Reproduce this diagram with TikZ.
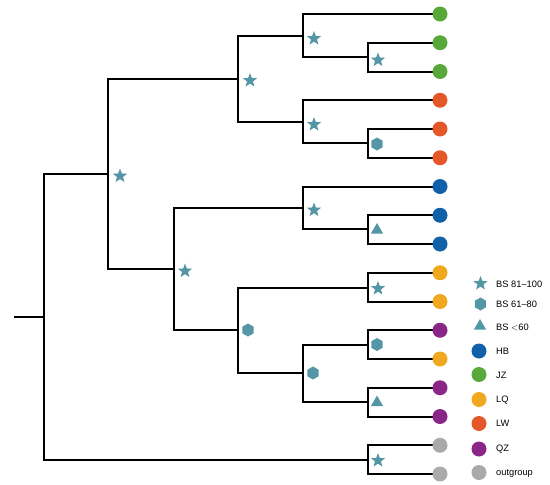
\documentclass[tikz,border=0pt]{standalone}
\usepackage{fontspec}
\setmainfont{Liberation Sans}
\usetikzlibrary{shapes.geometric}
\definecolor{mk}{RGB}{84,150,166}
\definecolor{cJZ}{RGB}{88,168,58}
\definecolor{cLW}{RGB}{228,87,40}
\definecolor{cHB}{RGB}{16,96,170}
\definecolor{cLQ}{RGB}{240,168,30}
\definecolor{cQZ}{RGB}{138,38,135}
\definecolor{cOG}{RGB}{170,170,170}
\tikzset{
  br/.style={line width=2pt, black},
  tip/.style={circle, fill=#1, minimum size=15pt, inner sep=0pt},
  bsstar/.style={star, star points=5, star point ratio=2.4, fill=mk, minimum size=15pt, inner sep=0pt},
  bshex/.style={regular polygon, regular polygon sides=6, shape border rotate=30, fill=mk, minimum size=13pt, inner sep=0pt},
  bstri/.style={regular polygon, regular polygon sides=3, fill=mk, minimum size=14pt, inner sep=0pt},
  lab/.style={anchor=west, font=\fontsize{9.3}{11}\selectfont, inner sep=0pt}
}
\begin{document}
\begin{tikzpicture}[x=1pt,y=-1pt]
\useasboundingbox (0,0) rectangle (550,485);
% internal nodes
\coordinate (s) at (14,316.75);
\coordinate (root) at (44,316.75);
\coordinate (a) at (108,174);
\coordinate (b) at (238,78.5);
\coordinate (c) at (303,35.5);
\coordinate (d) at (368,57);
\coordinate (e) at (303,121.5);
\coordinate (f) at (368,143);
\coordinate (g) at (174,269);
\coordinate (h) at (303,208);
\coordinate (i) at (368,229);
\coordinate (j) at (238,330);
\coordinate (k) at (368,287.5);
\coordinate (l) at (303,373);
\coordinate (m) at (368,344.5);
\coordinate (n) at (368,401.5);
\coordinate (o) at (368,459.5);
% tip coordinates
\foreach \k in {1,...,17}{
  \coordinate (p\k) at (440,{14+(\k-1)*28.75});
}
% branches
\draw[br] (s) -- (root);
\draw[br] (root) |- (a);
\draw[br] (root) |- (o);
\draw[br] (a) |- (b);
\draw[br] (a) |- (g);
\draw[br] (b) |- (c);
\draw[br] (b) |- (e);
\draw[br] (c) |- (p1);
\draw[br] (c) |- (d);
\draw[br] (d) |- (p2);
\draw[br] (d) |- (p3);
\draw[br] (e) |- (p4);
\draw[br] (e) |- (f);
\draw[br] (f) |- (p5);
\draw[br] (f) |- (p6);
\draw[br] (g) |- (h);
\draw[br] (g) |- (j);
\draw[br] (h) |- (p7);
\draw[br] (h) |- (i);
\draw[br] (i) |- (p8);
\draw[br] (i) |- (p9);
\draw[br] (j) |- (k);
\draw[br] (j) |- (l);
\draw[br] (k) |- (p10);
\draw[br] (k) |- (p11);
\draw[br] (l) |- (m);
\draw[br] (l) |- (n);
\draw[br] (m) |- (p12);
\draw[br] (m) |- (p13);
\draw[br] (n) |- (p14);
\draw[br] (n) |- (p15);
\draw[br] (o) |- (p16);
\draw[br] (o) |- (p17);
% tips
\foreach \k/\c in {1/cJZ,2/cJZ,3/cJZ,4/cLW,5/cLW,6/cLW,7/cHB,8/cHB,9/cHB,10/cLQ,11/cLQ,12/cQZ,13/cLQ,14/cQZ,15/cQZ,16/cOG,17/cOG}{
  \node[tip=\c] (t\k) at (p\k) {};
}
% support markers
\node[bsstar] (sa) at ([xshift=12pt,yshift=-2pt]a) {};
\node[bsstar] (sb) at ([xshift=12pt,yshift=-2pt]b) {};
\node[bsstar] (sc) at ([xshift=11pt,yshift=-3pt]c) {};
\node[bsstar] (sd) at ([xshift=10pt,yshift=-3pt]d) {};
\node[bsstar] (se) at ([xshift=11pt,yshift=-3pt]e) {};
\node[bshex] (sf) at ([xshift=9pt,yshift=-1pt]f) {};
\node[bsstar] (sg) at ([xshift=11pt,yshift=-2pt]g) {};
\node[bsstar] (sh) at ([xshift=11pt,yshift=-2pt]h) {};
\node[bstri] (si) at ([xshift=9pt,yshift=-1pt]i) {};
\node[bshex] (sj) at ([xshift=10pt,yshift=0pt]j) {};
\node[bsstar] (sk) at ([xshift=10pt,yshift=-1pt]k) {};
\node[bshex] (sl) at ([xshift=10pt,yshift=0pt]l) {};
\node[bshex] (sm) at ([xshift=9pt,yshift=0pt]m) {};
\node[bstri] (sn) at ([xshift=9pt,yshift=-1pt]n) {};
\node[bsstar] (so) at ([xshift=10pt,yshift=-1pt]o) {};
% legend
\node[bsstar] (l1) at (480.5,283.5) {};
\node[lab] (lt1) at (496,284) {BS 81–100};
\node[bshex] (l2) at (480.5,304) {};
\node[lab] (lt2) at (496,304.5) {BS 61–80};
\node[bstri] (l3) at (480,326) {};
\node[lab] (lt3) at (496,327) {BS $<$60};
\node[tip=cHB] (l4) at (479,351) {};
\node[lab] (lt4) at (496,351) {HB};
\node[tip=cJZ] (l5) at (479,374.5) {};
\node[lab] (lt5) at (496,375) {JZ};
\node[tip=cLQ] (l6) at (479,399.5) {};
\node[lab] (lt6) at (496,400) {LQ};
\node[tip=cLW] (l7) at (479,423.5) {};
\node[lab] (lt7) at (496,423.5) {LW};
\node[tip=cQZ] (l8) at (479,449) {};
\node[lab] (lt8) at (496,449) {QZ};
\node[tip=cOG] (l9) at (479,472.5) {};
\node[lab] (lt9) at (496,473) {outgroup};
\end{tikzpicture}
\end{document}
